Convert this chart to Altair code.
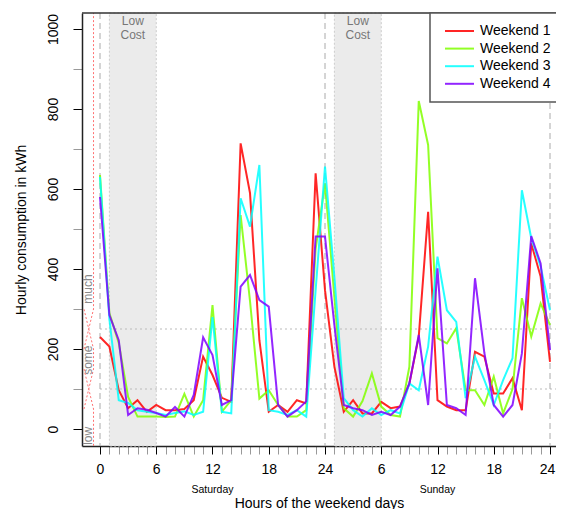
import altair as alt
import pandas as pd

# ---------------- data ----------------
hours = list(range(49))  # 0..24 Saturday, 24..48 Sunday
series_names = ["Weekend 1", "Weekend 2", "Weekend 3", "Weekend 4"]
series_colors = ["#FF0000", "#80FF00", "#00FFFF", "#8000FF"]

weekend1 = [230, 206, 97, 52, 72, 43, 60, 47, 47, 50,
            72, 181, 135, 78, 68, 714, 590, 222, 43, 60,
            43, 72, 64, 639, 347, 156, 43, 72, 39, 39,
            68, 52, 56, 114, 231, 543, 72, 56, 47, 47,
            193, 181, 89, 89, 127, 47, 464, 381, 168]
weekend2 = [635, 290, 215, 80, 31, 31, 31, 30, 31, 88,
            31, 72, 310, 43, 72, 535, 320, 76, 97, 60,
            31, 31, 47, 450, 614, 330, 52, 31, 70, 139,
            56, 35, 31, 156, 820, 710, 227, 214, 252, 97,
            97, 60, 131, 39, 100, 327, 231, 314, 260]
weekend3 = [630, 275, 72, 65, 47, 43, 40, 35, 40, 44,
            35, 43, 280, 43, 39, 577, 506, 660, 47, 43,
            35, 47, 31, 347, 656, 380, 77, 47, 31, 52,
            35, 47, 39, 114, 97, 206, 431, 297, 268, 77,
            181, 122, 60, 122, 177, 597, 477, 406, 297]
weekend4 = [580, 285, 222, 35, 52, 48, 40, 31, 55, 31,
            85, 229, 185, 60, 72, 356, 385, 322, 306, 60,
            31, 47, 69, 481, 481, 260, 60, 52, 47, 35,
            43, 35, 56, 114, 235, 60, 402, 60, 52, 35,
            377, 190, 60, 31, 60, 189, 482, 414, 197]

low_cost_start = [1, 25]
low_cost_end = [6, 30]
day_bounds = [0, 24, 48]
level_lines = [100, 250]
day_names = ["Saturday", "Sunday"]
day_centers = [12, 36]

# fuzzy membership functions (consumption kWh -> membership 0..1)
mf_set = ["low"] * 3 + ["some"] * 4 + ["much"] * 3
mf_kwh = [-42, 50, 150, 50, 150, 200, 300, 200, 300, 1040]
mf_degree = [1, 1, 0, 0, 1, 1, 0, 0, 1, 1]
mf_labels = ["low", "some", "much"]
mf_label_kwh = [-17, 172, 350]

# ---------------- layout ----------------
W, H = 474, 433
XMIN, XMAX = -1.92, 48.64
YMIN, YMAX = -42.5, 1040
FONT = "Liberation Sans"

series = []
for name, vals in zip(series_names, [weekend1, weekend2, weekend3, weekend4]):
    for h, v in zip(hours, vals):
        series.append({"hour": h, "kwh": v, "series": name})
df = pd.DataFrame(series)

xscale = alt.Scale(domain=[XMIN, XMAX], nice=False, zero=False)
yscale = alt.Scale(domain=[YMIN, YMAX], nice=False, zero=False)

xaxis = alt.Axis(
    values=list(range(0, 49)),
    labelExpr="datum.value % 6 == 0 ? (datum.value > 24 ? '' + (datum.value - 24) : '' + datum.value) : ''",
    tickColor={"condition": {"test": "datum.value % 6 == 0", "value": "#000000"}, "value": "#999999"},
    labelOffset={"condition": {"test": "datum.value == 48", "value": -3}, "value": 0},
    tickSize=8, tickWidth=1, labelPadding=8, labelOverlap=False, labelFlush=False,
    labelFontSize=14, labelColor="#000", grid=False,
    domain=True, domainColor="#222222", domainWidth=1.5,
    title="Hours of the weekend days", titleFontSize=14, titlePadding=20,
    titleFontWeight="normal", titleColor="#000",
)
yaxis = alt.Axis(
    values=list(range(0, 1001, 100)),
    labelExpr="datum.value % 200 == 0 ? '' + datum.value : ''",
    tickColor={"condition": {"test": "datum.value % 200 == 0", "value": "#000000"}, "value": "#999999"},
    tickSize=9, tickWidth=1, labelAngle=270, labelPadding=13, labelOverlap=False, labelFlush=False,
    labelFontSize=14, labelColor="#000", grid=False,
    domain=True, domainColor="#222222", domainWidth=1.5,
    title="Hourly consumption in kWh", titleFontSize=14, titlePadding=18,
    titleFontWeight="normal", titleColor="#000",
)


def X(field):
    return alt.X(field, type="quantitative", scale=xscale, axis=xaxis)


def Y(field):
    return alt.Y(field, type="quantitative", scale=yscale, axis=yaxis)


bands_df = pd.DataFrame({"start": low_cost_start, "end": low_cost_end})
bands = alt.Chart(bands_df).mark_rect(
    fill="#ebebeb", stroke="#cccccc", strokeDash=[2, 2], strokeWidth=1
).encode(x=X("start"), x2="end", y=alt.value(0), y2=alt.value(H))

lowcost_txt = alt.Chart(bands_df).transform_calculate(
    mid="(datum.start + datum.end) / 2", txt="['Low', 'Cost']"
).mark_text(
    baseline="top", align="center", fontSize=12, lineHeight=14, color="#777777", font=FONT
).encode(x=X("mid"), y=alt.value(3), text="txt:N")

hl_df = pd.DataFrame({"kwh": level_lines})
hlines = alt.Chart(hl_df).mark_rule(
    color="#bbbbbb", strokeDash=[2, 3], strokeWidth=1
).encode(y=Y("kwh"), x=alt.XDatum(0, scale=xscale, axis=xaxis), x2=alt.value(W))

vl_df = pd.DataFrame({"hour": day_bounds})
vlines = alt.Chart(vl_df).mark_rule(
    color="#aaaaaa", strokeDash=[6, 4], strokeWidth=1
).encode(x=X("hour"))

# top border of the plot box (right side is outside the picture, as in the original)
top_df = pd.DataFrame({"kwh": [YMAX]})
topline = alt.Chart(top_df).mark_rule(color="#333333", strokeWidth=1.5).encode(y=Y("kwh"))

mf_df = pd.DataFrame({"set": mf_set, "kwh": mf_kwh, "deg": mf_degree,
                      "idx": list(range(len(mf_set)))})
member = alt.Chart(mf_df).transform_calculate(
    mx="-1.71 + 1.02 * datum.deg"
).mark_line(color="#ff7070", strokeDash=[2, 2], strokeWidth=1).encode(
    x=X("mx"), y=Y("kwh"), detail="set:N", order=alt.Order("idx:Q")
)

mfl_df = pd.DataFrame({"label": mf_labels, "kwh": mf_label_kwh})
member_txt = alt.Chart(mfl_df).transform_calculate(mx="-1.27").mark_text(
    angle=270, fontSize=12, color="#888888", font=FONT, baseline="middle", align="center"
).encode(x=X("mx"), y=Y("kwh"), text="label:N")

day_df = pd.DataFrame({"day": day_names, "hour": day_centers})
day_txt = alt.Chart(day_df).mark_text(
    fontSize=10.5, color="#000", font=FONT, baseline="middle", align="center"
).encode(x=X("hour"), y=alt.value(H + 44), text="day:N")

lines = alt.Chart(df).mark_line(strokeWidth=2, opacity=0.85).encode(
    x=X("hour"),
    y=Y("kwh"),
    color=alt.Color(
        "series:N",
        scale=alt.Scale(domain=series_names, range=series_colors),
        legend=alt.Legend(
            orient="none", legendX=348, legendY=0, title=None,
            fillColor="white", strokeColor="#555555", padding=11,
            symbolType="M-0.5,0H4.33", symbolSize=144, symbolStrokeWidth=2,
            symbolFillColor="transparent",
            labelFontSize=14, labelOffset=25, rowPadding=3.6,
            labelColor="#000", labelFont=FONT, labelLimit=200,
        ),
    ),
)

chart = alt.layer(
    bands, hlines, vlines, member, member_txt, lowcost_txt, day_txt, lines, topline
).properties(
    width=W, height=H,
    autosize=alt.AutoSizeParams(type="none"),
    padding={"left": 74, "top": 5, "right": 0, "bottom": 63},
).configure_view(
    stroke=None
).configure_axis(
    labelFont=FONT, titleFont=FONT
).configure_legend(
    strokeWidth=1.5
)

chart.save("out.html", embed_options={"renderer": "svg", "actions": False})
